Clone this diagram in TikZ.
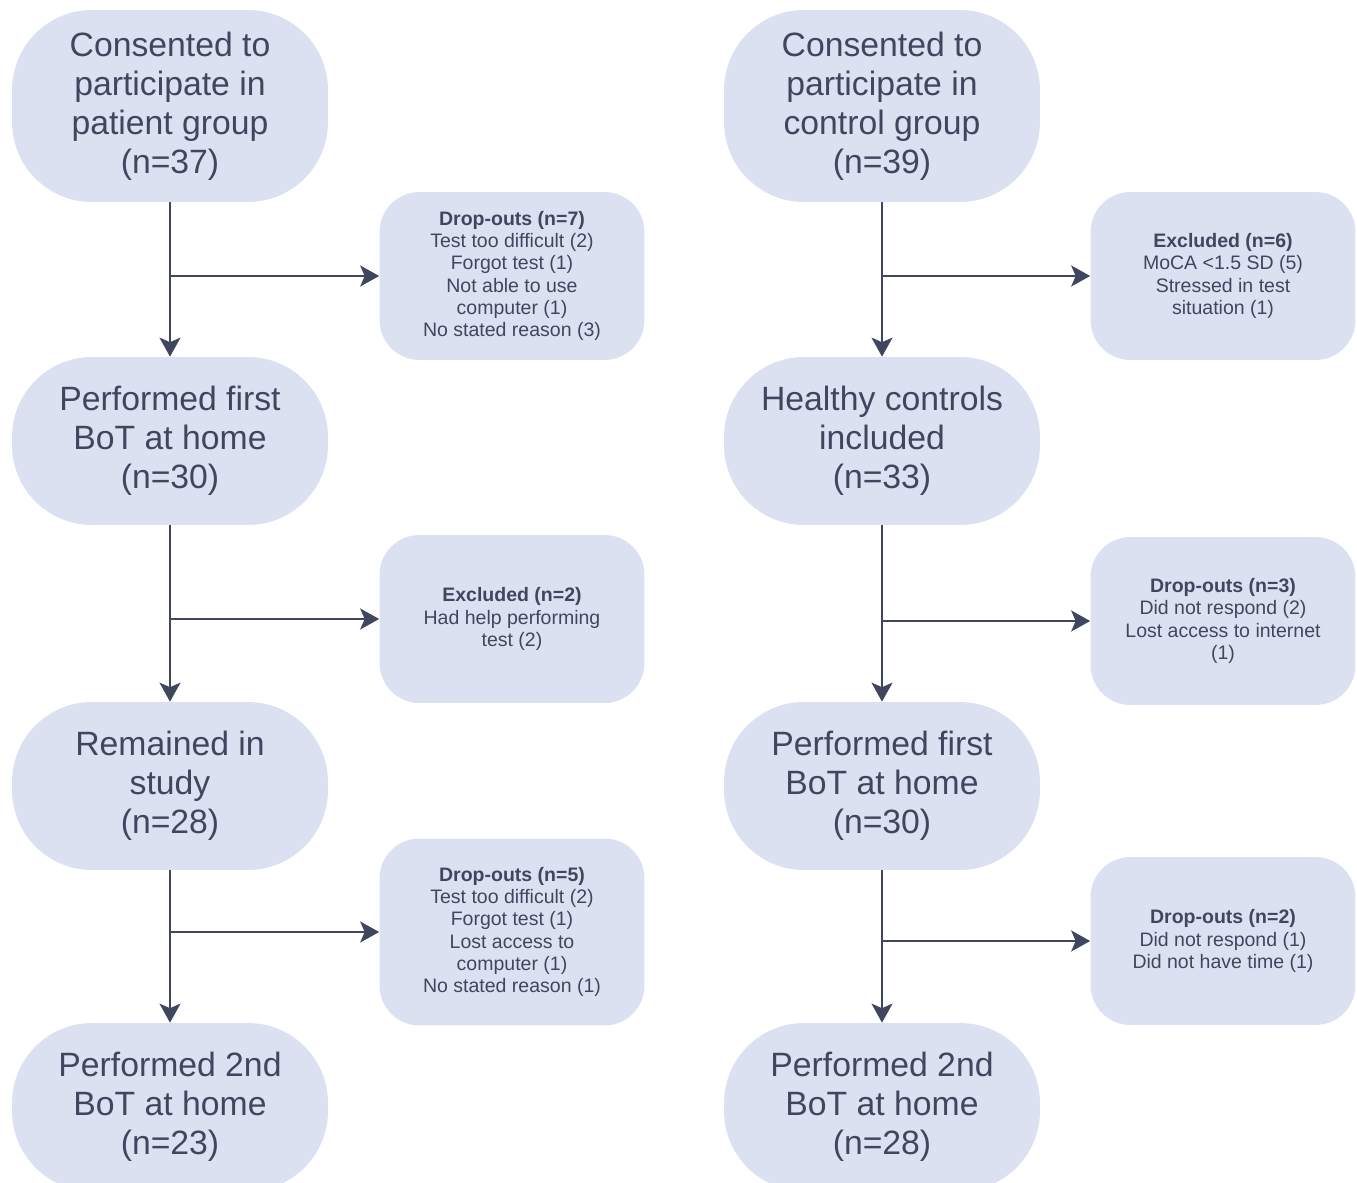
\documentclass[tikz,border=0pt]{standalone}
\usepackage{fontspec}
\setmainfont{Liberation Sans}
\usetikzlibrary{arrows.meta,positioning}
\definecolor{boxfill}{HTML}{DCE1F2}
\definecolor{inkc}{HTML}{41465F}
\tikzset{
    bignode/.style={fill=boxfill, text=inkc, minimum width=6.32cm, minimum height=3.36cm,
        rounded corners=1.6cm, align=center, font=\fontsize{19.2}{22.2}\selectfont},
    sidenode/.style={fill=boxfill, text=inkc, minimum width=5.3cm, minimum height=3.36cm,
        rounded corners=0.8cm, align=center, font=\fontsize{11.1}{12.6}\selectfont},
    arr/.style={draw=inkc, line width=1.2pt, -{Stealth[length=0.38cm,width=0.42cm,inset=0.09cm]}}
}
\begin{document}
\begin{tikzpicture}[x=0.02cm,y=-0.02cm]
                \useasboundingbox (0,0) rectangle (1357,1183);

                % patient group
                \node (patA) [bignode, minimum height=3.84cm] at (170,106) {Consented to\\participate in\\patient group\\(n=37)};
                \node (patB) [bignode] at (170,441) {Performed first\\BoT at home\\(n=30)};
                \node (patC) [bignode] at (170,786) {Remained in\\study\\(n=28)};
                \node (patD) [bignode] at (170,1107) {Performed 2nd\\BoT at home\\(n=23)};

                \node (dropA) [sidenode] at (512,276) {\textbf{Drop-outs (n=7)}\\Test too difficult (2)\\Forgot test (1)\\Not able to use\\computer (1)\\No stated reason (3)};
                \node (exclA) [sidenode] at (512,619) {\textbf{Excluded (n=2)}\\Had help performing\\test (2)};
                \node (dropB) [sidenode, minimum height=3.74cm] at (512,932) {\textbf{Drop-outs (n=5)}\\Test too difficult (2)\\Forgot test (1)\\Lost access to\\computer (1)\\No stated reason (1)};

                % control group
                \node (conA) [bignode, minimum height=3.84cm] at (882,106) {Consented to\\participate in\\control group\\(n=39)};
                \node (conB) [bignode] at (882,441) {Healthy controls\\included\\(n=33)};
                \node (conC) [bignode] at (882,786) {Performed first\\BoT at home\\(n=30)};
                \node (conD) [bignode] at (882,1107) {Performed 2nd\\BoT at home\\(n=28)};

                \node (exclC) [sidenode] at (1223,276) {\textbf{Excluded (n=6)}\\MoCA <1.5 SD (5)\\Stressed in test\\situation (1)};
                \node (dropC) [sidenode] at (1223,621) {\textbf{Drop-outs (n=3)}\\Did not respond (2)\\Lost access to internet\\(1)};
                \node (dropD) [sidenode] at (1223,941) {\textbf{Drop-outs (n=2)}\\Did not respond (1)\\Did not have time (1)};

                % branch points on the vertical lines
                \coordinate (jA1) at (patA.south |- dropA.west);
                \coordinate (jA2) at (patA.south |- exclA.west);
                \coordinate (jA3) at (patA.south |- dropB.west);
                \coordinate (jC1) at (conA.south |- exclC.west);
                \coordinate (jC2) at (conA.south |- dropC.west);
                \coordinate (jC3) at (conA.south |- dropD.west);

                \draw [arr] (patA) -- (patB);
                \draw [arr] (patB) -- (patC);
                \draw [arr] (patC) -- (patD);
                \draw [arr] (jA1) -- (dropA.west);
                \draw [arr] (jA2) -- (exclA.west);
                \draw [arr] (jA3) -- (dropB.west);

                \draw [arr] (conA) -- (conB);
                \draw [arr] (conB) -- (conC);
                \draw [arr] (conC) -- (conD);
                \draw [arr] (jC1) -- (exclC.west);
                \draw [arr] (jC2) -- (dropC.west);
                \draw [arr] (jC3) -- (dropD.west);
            \end{tikzpicture}
\end{document}
